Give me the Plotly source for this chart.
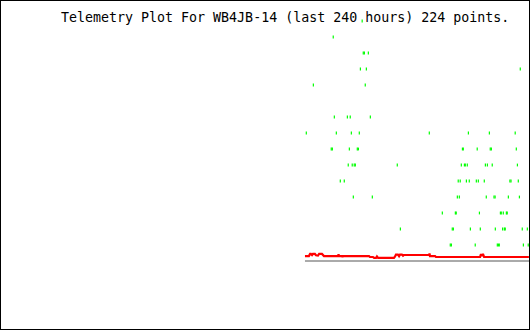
import plotly.graph_objects as go

# ---- data (x = hours within the 240 h window, y = channel level) ----
title_text = "Telemetry Plot For WB4JB-14 (last 240 hours) 224 points."

green_hours = [
    164.0,
    150.9,
    164.5, 165.0, 166.8,
    163.2, 165.9, 235.6,
    141.9, 165.4,
    151.4, 157.3, 158.6, 167.7,
    138.7, 152.3, 159.1, 162.7, 194.4, 212.1, 221.6, 233.3,
    150.0, 150.5, 158.2, 161.8, 162.3, 209.4, 209.8, 216.1, 222.0, 222.5, 233.8,
    157.7, 159.5, 160.4, 160.9, 179.9, 208.9, 210.3, 210.7, 211.6, 219.8, 220.7, 222.9, 234.3,
    154.1, 155.9, 207.5, 208.4, 211.2, 212.5, 215.7, 216.6, 219.3, 230.9, 231.4, 234.7,
    160.0, 168.6, 207.1, 208.0, 220.2, 223.7, 224.2, 230.2, 235.2,
    200.3, 206.2, 206.6, 217.1, 226.6, 227.0, 227.9, 229.3, 229.7,
    181.3, 204.8, 205.3, 213.0, 217.5, 224.3, 227.6, 228.4, 228.8, 236.5, 238.8,
    203.9, 204.4, 215.2, 225.2, 225.7, 226.1, 237.0, 239.2,
]
green_levels = (
    [15] * 1 + [14] * 1 + [13] * 3 + [12] * 3 + [11] * 2 + [9] * 4 + [8] * 8
    + [7] * 11 + [6] * 13 + [5] * 12 + [4] * 9 + [3] * 9 + [2] * 11 + [1] * 8
)

red_hours = [138.1, 139.9, 140.4, 140.8, 141.3, 141.7, 142.6, 143.1, 144.0, 144.5,
             145.8, 146.3, 146.7, 153.1, 153.3, 153.5, 154.9, 155.1, 155.3, 167.1,
             167.5, 168.9, 169.4, 170.3, 170.7, 171.2, 178.4, 178.9, 179.3, 180.2,
             180.7, 181.1, 182.0, 182.5, 182.9, 194.3, 194.5, 194.7, 197.0, 197.4,
             217.4, 217.8, 218.3, 218.7, 219.2, 239.5]
red_values = [0.31, 0.31, 0.44, 0.44, 0.37, 0.44, 0.44, 0.36, 0.34, 0.44,
              0.44, 0.37, 0.31, 0.31, 0.42, 0.31, 0.31, 0.25, 0.31, 0.31,
              0.25, 0.25, 0.19, 0.19, 0.28, 0.19, 0.19, 0.28, 0.40, 0.40,
              0.30, 0.40, 0.40, 0.33, 0.375, 0.375, 0.47, 0.31, 0.31, 0.25,
              0.25, 0.44, 0.31, 0.44, 0.25, 0.25]

gray_hours = [138.1, 240.0]
gray_values = [0.0, 0.0]

# ---- figure ----
fig = go.Figure()
fig.add_trace(go.Scatter(
    x=gray_hours, y=gray_values, mode="lines",
    line=dict(color="#aaaaaa", width=2), hoverinfo="skip"))
fig.add_trace(go.Scatter(
    x=red_hours, y=red_values, mode="lines",
    line=dict(color="#ff0000", width=2.2), hoverinfo="skip"))
fig.add_trace(go.Scatter(
    x=green_hours, y=green_levels, mode="markers",
    marker=dict(symbol="line-ns-open", size=2, color="#00ff00",
                line=dict(color="#00ff00", width=1.2)),
    hoverinfo="skip"))

fig.update_layout(
    width=530, height=330,
    margin=dict(l=0, r=0, t=0, b=0),
    paper_bgcolor="white", plot_bgcolor="white",
    showlegend=False,
    xaxis=dict(range=[0, 240], visible=False, fixedrange=True),
    yaxis=dict(range=[-4.3125, 16.3125], visible=False, fixedrange=True),
    shapes=[dict(type="rect", xref="paper", yref="paper", x0=0, x1=1, y0=0, y1=1,
                 line=dict(color="black", width=2), fillcolor="rgba(0,0,0,0)")],
    annotations=[dict(
        text=title_text, xref="paper", yref="paper",
        x=59 / 530, y=1 - 17 / 330, xanchor="left", yanchor="middle",
        showarrow=False,
        font=dict(family="DejaVu Sans Mono", size=13.3, color="black"))],
)

fig.write_html("out.html", config={"displayModeBar": False})
